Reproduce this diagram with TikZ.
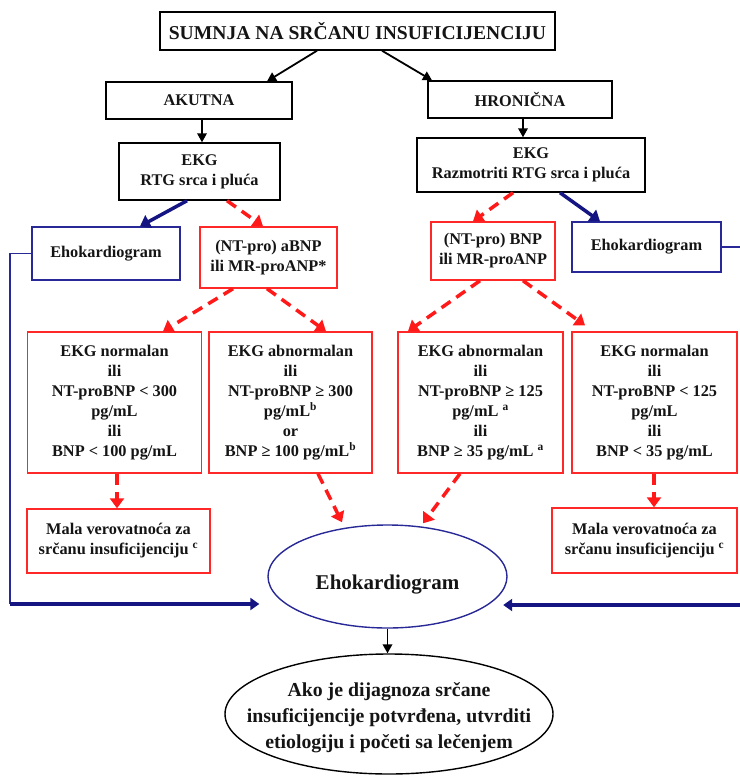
\documentclass[tikz,border=0pt]{standalone}
\usepackage{fontspec}
\setmainfont{Liberation Serif}
\usetikzlibrary{arrows.meta,shapes.geometric}
\definecolor{boxred}{RGB}{255,40,40}
\definecolor{arrred}{RGB}{255,25,25}
\definecolor{navy}{RGB}{20,20,130}
\definecolor{boxblue}{RGB}{40,40,150}
\definecolor{ink}{RGB}{20,20,20}

\begin{document}
\begin{tikzpicture}[x=1pt,y=-1pt,
  txt/.style={font=\bfseries\fontsize{16.3}{20}\selectfont, text=ink, align=center},
  blackbox/.style={txt, draw=black, line width=1.4pt, inner sep=0pt},
  redbox/.style={txt, draw=boxred, line width=1.4pt, inner sep=0pt},
  bluebox/.style={txt, draw=boxblue, line width=1.4pt, inner sep=0pt},
  blackarrow/.style={draw=black, line width=1.8pt, -{Triangle[length=9pt,width=9.5pt]}},
  bluearrow/.style={draw=navy, line width=3.5pt, -{Triangle[length=10pt,width=14pt]}},
  redarrow/.style={draw=arrred, line width=3.5pt, dash pattern=on 11pt off 7pt, -{Triangle[length=10pt,width=14pt]}},
  feedline/.style={draw=boxblue, line width=1.3pt},
  feedarrow/.style={draw=navy, line width=4.5pt, -{Triangle[length=9pt,width=12pt]}},
  rowbox/.style={redbox, minimum width=#1, minimum height=141pt},
]
\useasboundingbox (0,0) rectangle (739,776);

% --- top of the flow ---
\node[blackbox, font=\bfseries\fontsize{19.6}{22}\selectfont, minimum width=395pt, minimum height=38pt]
  (title) at (357.5,31) {SUMNJA NA SRČANU INSUFICIJENCIJU};
\node[blackbox, minimum width=186pt, minimum height=37pt] (akutna) at (199,100.5) {AKUTNA};
\node[blackbox, minimum width=184pt, minimum height=37pt] (hron) at (520,99.5) {HRONIČNA};
\node[blackbox, minimum width=161pt, minimum height=57pt] (ekgL) at (199.5,171.5) {EKG\\RTG srca i pluća};
\node[blackbox, minimum width=228pt, minimum height=54pt] (ekgR) at (531,165) {EKG\\Razmotriti RTG srca i pluća};

% --- second level ---
\node[bluebox, minimum width=148pt, minimum height=53pt] (ehoL) at (106,253.5) {Ehokardiogram};
\node[redbox, minimum width=137pt, minimum height=61pt] (bnpL) at (268.5,257.5) {(NT-pro) aBNP\\ili MR-proANP*};
\node[redbox, minimum width=124pt, minimum height=58pt] (bnpR) at (493,251) {(NT-pro) BNP\\ili MR-proANP};
\node[bluebox, minimum width=149pt, minimum height=50pt] (ehoR) at (646.5,247) {Ehokardiogram};

% --- threshold boxes ---
\node[rowbox=174pt] (boxA) at (114.5,402.5)
  {EKG normalan\\ili\\NT-proBNP < 300\\pg/mL\\ili\\BNP < 100 pg/mL};
\node[rowbox=163pt] (boxB) at (290.5,402.5)
  {EKG abnormalan\\ili\\NT-proBNP ≥ 300\\pg/mL\textsuperscript{b}\\or\\BNP ≥ 100 pg/mL\textsuperscript{b}};
\node[rowbox=165pt] (boxC) at (480.5,402.5)
  {EKG abnormalan\\ili\\NT-proBNP ≥ 125\\pg/mL \textsuperscript{a}\\ili\\BNP ≥ 35 pg/mL \textsuperscript{a}};
\node[rowbox=165pt] (boxD) at (654.5,402.5)
  {EKG normalan\\ili\\NT-proBNP < 125\\pg/mL\\ili\\BNP < 35 pg/mL};

\node[redbox, minimum width=183pt, minimum height=64pt] (malaL) at (118.5,541)
  {Mala verovatnoća za\\srčanu insuficijenciju \textsuperscript{c}};
\node[redbox, minimum width=185pt, minimum height=65pt] (malaR) at (644.5,540.5)
  {Mala verovatnoća za\\srčanu insuficijenciju \textsuperscript{c}};

% --- ellipses ---
\node[ellipse, draw=boxblue, line width=1.4pt, minimum width=239pt, minimum height=103pt, inner sep=0pt]
  (ell1) at (387.5,576.5) {};
\node[font=\bfseries\fontsize{21}{24}\selectfont, text=ink] (ell1txt) at ([yshift=-8pt]ell1.center) {Ehokardiogram};
\node[ellipse, draw=black, line width=1.4pt, minimum width=328pt, minimum height=120pt, inner sep=0pt]
  (ell2) at (389,714) {};
\node[font=\bfseries\fontsize{19.8}{26}\selectfont, text=ink, align=center] (ell2txt) at ([yshift=-4pt]ell2.center)
  {Ako je dijagnoza srčane\\insuficijencije potvrđena, utvrditi\\etiologiju i početi sa lečenjem};

% --- connectors ---
\draw[blackarrow] ([xshift=-40.5pt]title.south) -- ([xshift=68pt]akutna.north);
\draw[blackarrow] ([xshift=24.5pt]title.south) -- ([xshift=-88pt]hron.north);
\draw[blackarrow] ([xshift=3pt]akutna.south) -- ([xshift=2.5pt]ekgL.north);
\draw[blackarrow] ([xshift=3pt]hron.south) -- ([xshift=-8pt]ekgR.north);

\draw[bluearrow] ([xshift=-12.5pt]ekgL.south) -- ([xshift=34pt]ehoL.north);
\draw[redarrow] ([xshift=27.5pt]ekgL.south) -- ([xshift=-5.5pt]bnpL.north);
\draw[redarrow] ([xshift=-18pt]ekgR.south) -- ([xshift=-20pt]bnpR.north);
\draw[bluearrow] ([xshift=29pt]ekgR.south) -- ([xshift=-46.5pt]ehoR.north);

\draw[redarrow] ([xshift=-35.5pt]bnpL.south) -- ([xshift=48.5pt]boxA.north);
\draw[redarrow] ([xshift=-1.5pt]bnpL.south) -- ([xshift=35.5pt]boxB.north);
\draw[redarrow] ([xshift=-13pt]bnpR.south) -- ([xshift=-72.5pt]boxC.north);
\draw[redarrow] ([xshift=30pt]bnpR.south) -- ([xshift=-69.5pt,yshift=6pt]boxD.north);

\draw[redarrow] ([xshift=2.5pt]boxA.south) -- ([xshift=-1.5pt]malaL.north);
\draw[redarrow] ([xshift=27.5pt]boxB.south) -- ([xshift=-45.5pt,yshift=2pt]ell1.north);
\draw[redarrow] ([xshift=-20.5pt]boxC.south) -- ([xshift=35.5pt,yshift=1pt]ell1.north);
\draw[redarrow] ([xshift=-0.5pt]boxD.south) -- ([xshift=9.5pt]malaR.north);

\draw[blackarrow] (ell1.south) -- (ell1.south |- ell2.north);

% --- echocardiography feed-back lines ---
\coordinate (cornerL) at (10,604);
\draw[feedline] (ehoL.west) -| (cornerL);
\draw[feedarrow] (cornerL) -- ([shift={(-8pt,-27.5pt)}]ell1.west);

\coordinate (edgeR) at (745,247);
\coordinate (edgeRb) at (745,605);
\draw[feedline] (ehoR.east) -- (edgeR);
\draw[feedarrow] (edgeRb) -- ([shift={(-4.5pt,-28.5pt)}]ell1.east);
\end{tikzpicture}
\end{document}
